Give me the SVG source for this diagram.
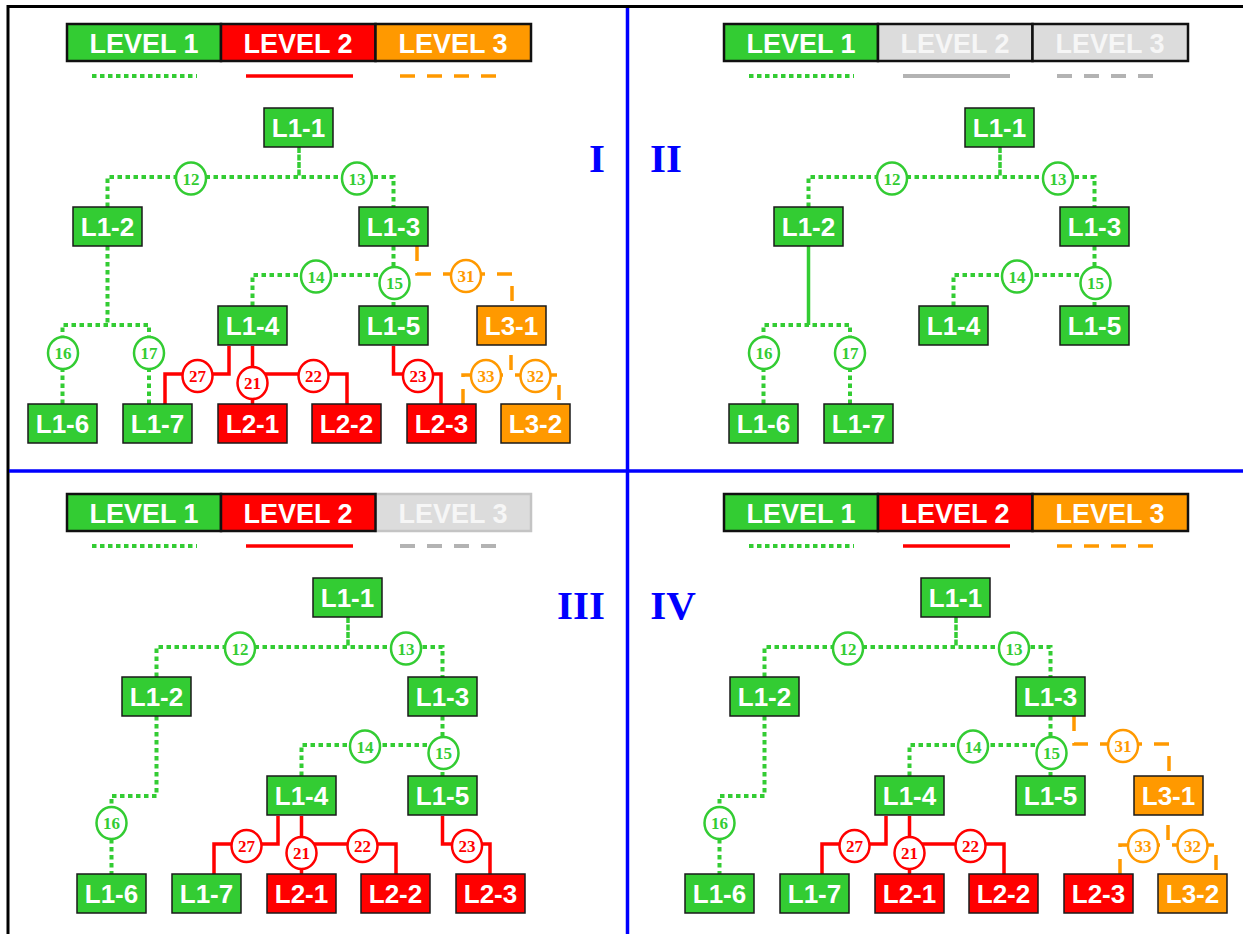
<svg xmlns="http://www.w3.org/2000/svg" width="1243" height="934" viewBox="0 0 1243 934">
<style>
.node rect{stroke:#1a1a1a;stroke-width:1.5}
.g{fill:#33cc33}.r{fill:#ff0000}.o{fill:#ff9900}.x{fill:#dcdcdc}
.node text,.leg text{font-family:"Liberation Sans",Arial,sans-serif;font-weight:bold;font-size:26px;fill:#fff;text-anchor:middle}
.leg text{font-size:27px}
.leg rect{stroke:#111;stroke-width:2.5}
.leg text.dim{fill:#f6f6f6}
.c1{fill:none;stroke:#33cc33;stroke-width:4;stroke-dasharray:4.5 3.5}
.c1s{fill:none;stroke:#33cc33;stroke-width:3.5}
.c1d{fill:none;stroke:#33cc33;stroke-width:3.5;stroke-dasharray:6 1.5}
.c2{fill:none;stroke:#ff0000;stroke-width:3.5}
.c3{fill:none;stroke:#ff9900;stroke-width:3.5;stroke-dasharray:15 12}
.lg{fill:none;stroke:#b3b3b3;stroke-width:4}
.bub ellipse{fill:#fff;stroke-width:2.5}
.bub text{font-family:"Liberation Serif","Times New Roman",serif;font-weight:bold;font-size:17px;text-anchor:middle}
.bg ellipse{stroke:#33cc33}.bg text{fill:#33cc33}
.br ellipse{stroke:#ff0000}.br text{fill:#ff0000}
.bo ellipse{stroke:#ff9900}.bo text{fill:#ff9900}
.roman{font-family:"Liberation Serif","Times New Roman",serif;font-weight:bold;font-size:41px;fill:#0000ff;text-anchor:middle}
</style>
<rect x="0" y="0" width="1243" height="934" fill="#fff"/>
<!-- frame -->
<g id="frame">
<line x1="8" y1="6.5" x2="1243" y2="6.5" stroke="#000" stroke-width="3"/>
<line x1="8" y1="5" x2="8" y2="934" stroke="#000" stroke-width="3"/>
<line x1="627.5" y1="8" x2="627.5" y2="934" stroke="#0000ff" stroke-width="3.5"/>
<line x1="9" y1="471" x2="1243" y2="471" stroke="#0000ff" stroke-width="3.5"/>
</g>
<text class="roman" x="597" y="172">I</text>
<text class="roman" x="666" y="172">II</text>
<text class="roman" x="581" y="619">III</text>
<text class="roman" x="673" y="619">IV</text>

<!-- legends -->
<g id="legend-1" class="leg">
<rect class="g" x="67" y="24" width="154" height="37"/><text x="144" y="53">LEVEL 1</text>
<rect class="r" x="221" y="24" width="154.5" height="37"/><text x="298" y="53">LEVEL 2</text>
<rect class="o" x="375.5" y="24" width="155.5" height="37"/><text x="453" y="53">LEVEL 3</text>
<line class="c1" x1="92" y1="76" x2="197" y2="76"/>
<line class="c2" x1="246" y1="76" x2="353" y2="76" stroke-width="4"/>
<line class="c3" x1="400" y1="76" x2="498" y2="76" stroke-width="4"/>
</g>
<g id="legend-2" class="leg" transform="translate(657,0)">
<rect class="g" x="67" y="24" width="154" height="37"/><text x="144" y="53">LEVEL 1</text>
<rect class="x" x="221" y="24" width="154.5" height="37"/><text class="dim" x="298" y="53">LEVEL 2</text>
<rect class="x" x="375.5" y="24" width="155.5" height="37"/><text class="dim" x="453" y="53">LEVEL 3</text>
<line class="c1" x1="92" y1="76" x2="197" y2="76"/>
<line class="lg" x1="246" y1="76" x2="353" y2="76"/>
<line class="lg" x1="400" y1="76" x2="498" y2="76" stroke-dasharray="15 12"/>
</g>
<g id="legend-3" class="leg" transform="translate(0,470)">
<rect class="x" x="375.5" y="24" width="155.5" height="37" style="stroke:#c4c4c4"/><text class="dim" x="453" y="53">LEVEL 3</text>
<rect class="g" x="67" y="24" width="154" height="37"/><text x="144" y="53">LEVEL 1</text>
<rect class="r" x="221" y="24" width="154.5" height="37"/><text x="298" y="53">LEVEL 2</text>
<line class="c1" x1="92" y1="76" x2="197" y2="76"/>
<line class="c2" x1="246" y1="76" x2="353" y2="76" stroke-width="4"/>
<line class="lg" x1="400" y1="76" x2="498" y2="76" stroke-dasharray="15 12"/>
</g>
<g id="legend-4" class="leg" transform="translate(657,470)">
<rect class="g" x="67" y="24" width="154" height="37"/><text x="144" y="53">LEVEL 1</text>
<rect class="r" x="221" y="24" width="154.5" height="37"/><text x="298" y="53">LEVEL 2</text>
<rect class="o" x="375.5" y="24" width="155.5" height="37"/><text x="453" y="53">LEVEL 3</text>
<line class="c1" x1="92" y1="76" x2="197" y2="76"/>
<line class="c2" x1="246" y1="76" x2="353" y2="76" stroke-width="4"/>
<line class="c3" x1="400" y1="76" x2="498" y2="76" stroke-width="4"/>
</g>

<!-- ===== Quadrant I ===== -->
<g id="q1-connectors">
<path class="c1d" d="M299,147V177"/>
<path class="c1" d="M107.5,207V177H393.5V207"/>
<path class="c1" d="M393.5,246V306"/>
<path class="c1" d="M252.5,306V275H380"/>
<path class="c1" d="M107.5,246V325"/>
<path class="c1" d="M62.5,404V325H149V404"/>
<path class="c2" d="M229,346V374H165V404"/>
<path class="c2" d="M252.5,346V404"/>
<path class="c2" d="M252.5,374H347V404"/>
<path class="c2" d="M393.5,346V374H441V404"/>
<path class="c3" d="M417,246V274H512V306"/>
<path class="c3" d="M511,346V375" stroke-dashoffset="18"/>
<path class="c3" d="M463,404V375H559V404"/>
<g class="bub bg"><ellipse cx="191" cy="178.5" rx="15" ry="16"/><text x="191" y="184.5">12</text></g>
<g class="bub bg"><ellipse cx="357" cy="178.5" rx="15" ry="16"/><text x="357" y="184.5">13</text></g>
<g class="bub bg"><ellipse cx="316" cy="276.5" rx="15" ry="16"/><text x="316" y="282.5">14</text></g>
<g class="bub bg"><ellipse cx="394.5" cy="283" rx="15" ry="16"/><text x="394.5" y="289">15</text></g>
<g class="bub bg"><ellipse cx="63" cy="353" rx="15" ry="16"/><text x="63" y="359">16</text></g>
<g class="bub bg"><ellipse cx="149" cy="353" rx="15" ry="16"/><text x="149" y="359">17</text></g>
<g class="bub br"><ellipse cx="197.5" cy="376" rx="15" ry="16"/><text x="197.5" y="382">27</text></g>
<g class="bub br"><ellipse cx="252.5" cy="383" rx="15" ry="16"/><text x="252.5" y="389">21</text></g>
<g class="bub br"><ellipse cx="313.5" cy="376" rx="15" ry="16"/><text x="313.5" y="382">22</text></g>
<g class="bub br"><ellipse cx="418" cy="376" rx="15" ry="16"/><text x="418" y="382">23</text></g>
<g class="bub bo"><ellipse cx="466" cy="276" rx="15" ry="16"/><text x="466" y="282">31</text></g>
<g class="bub bo"><ellipse cx="486" cy="376" rx="15" ry="16"/><text x="486" y="382">33</text></g>
<g class="bub bo"><ellipse cx="535.5" cy="376" rx="15" ry="16"/><text x="535.5" y="382">32</text></g>
</g>
<g id="q1-nodes">
<g id="q1-L1-1" class="node"><rect class="g" x="264" y="108" width="69" height="39"/><text x="298.5" y="137">L1-1</text></g>
<g id="q1-L1-2" class="node"><rect class="g" x="73" y="207" width="69" height="39"/><text x="107.5" y="236">L1-2</text></g>
<g id="q1-L1-3" class="node"><rect class="g" x="359" y="207" width="69" height="39"/><text x="393.5" y="236">L1-3</text></g>
<g id="q1-L1-4" class="node"><rect class="g" x="218" y="306" width="69" height="39"/><text x="252.5" y="335">L1-4</text></g>
<g id="q1-L1-5" class="node"><rect class="g" x="359" y="306" width="69" height="39"/><text x="393.5" y="335">L1-5</text></g>
<g id="q1-L3-1" class="node"><rect class="o" x="477" y="306" width="69" height="39"/><text x="511.5" y="335">L3-1</text></g>
<g id="q1-L1-6" class="node"><rect class="g" x="28" y="404" width="69" height="39"/><text x="62.5" y="433">L1-6</text></g>
<g id="q1-L1-7" class="node"><rect class="g" x="123" y="404" width="69" height="39"/><text x="157.5" y="433">L1-7</text></g>
<g id="q1-L2-1" class="node"><rect class="r" x="218" y="404" width="69" height="39"/><text x="252.5" y="433">L2-1</text></g>
<g id="q1-L2-2" class="node"><rect class="r" x="312" y="404" width="69" height="39"/><text x="346.5" y="433">L2-2</text></g>
<g id="q1-L2-3" class="node"><rect class="r" x="407" y="404" width="69" height="39"/><text x="441.5" y="433">L2-3</text></g>
<g id="q1-L3-2" class="node"><rect class="o" x="501" y="404" width="69" height="39"/><text x="535.5" y="433">L3-2</text></g>
</g>

<!-- ===== Quadrant II ===== -->
<g id="q2-connectors" transform="translate(701,0)">
<path class="c1d" d="M299,147V177"/>
<path class="c1" d="M107.5,207V177H393.5V207"/>
<path class="c1" d="M393.5,246V306"/>
<path class="c1" d="M252.5,306V275H380"/>
<path class="c1s" d="M107.5,246V325"/>
<path class="c1" d="M62.5,404V325H149V404"/>
<g class="bub bg"><ellipse cx="191" cy="178.5" rx="15" ry="16"/><text x="191" y="184.5">12</text></g>
<g class="bub bg"><ellipse cx="357" cy="178.5" rx="15" ry="16"/><text x="357" y="184.5">13</text></g>
<g class="bub bg"><ellipse cx="316" cy="276.5" rx="15" ry="16"/><text x="316" y="282.5">14</text></g>
<g class="bub bg"><ellipse cx="394.5" cy="283" rx="15" ry="16"/><text x="394.5" y="289">15</text></g>
<g class="bub bg"><ellipse cx="63" cy="353" rx="15" ry="16"/><text x="63" y="359">16</text></g>
<g class="bub bg"><ellipse cx="149" cy="353" rx="15" ry="16"/><text x="149" y="359">17</text></g>
</g>
<g id="q2-nodes" transform="translate(701,0)">
<g id="q2-L1-1" class="node"><rect class="g" x="264" y="108" width="69" height="39"/><text x="298.5" y="137">L1-1</text></g>
<g id="q2-L1-2" class="node"><rect class="g" x="73" y="207" width="69" height="39"/><text x="107.5" y="236">L1-2</text></g>
<g id="q2-L1-3" class="node"><rect class="g" x="359" y="207" width="69" height="39"/><text x="393.5" y="236">L1-3</text></g>
<g id="q2-L1-4" class="node"><rect class="g" x="218" y="306" width="69" height="39"/><text x="252.5" y="335">L1-4</text></g>
<g id="q2-L1-5" class="node"><rect class="g" x="359" y="306" width="69" height="39"/><text x="393.5" y="335">L1-5</text></g>
<g id="q2-L1-6" class="node"><rect class="g" x="28" y="404" width="69" height="39"/><text x="62.5" y="433">L1-6</text></g>
<g id="q2-L1-7" class="node"><rect class="g" x="123" y="404" width="69" height="39"/><text x="157.5" y="433">L1-7</text></g>
</g>

<!-- ===== Quadrant III ===== -->
<g id="q3-connectors" transform="translate(49,470)">
<path class="c1d" d="M299,147V177"/>
<path class="c1" d="M107.5,207V177H393.5V207"/>
<path class="c1" d="M393.5,246V306"/>
<path class="c1" d="M252.5,306V275H380"/>
<path class="c1" d="M107.5,246V326H62.5V404"/>
<path class="c2" d="M229,346V374H165V404"/>
<path class="c2" d="M252.5,346V404"/>
<path class="c2" d="M252.5,374H347V404"/>
<path class="c2" d="M393.5,346V374H441V404"/>
<g class="bub bg"><ellipse cx="191" cy="178.5" rx="15" ry="16"/><text x="191" y="184.5">12</text></g>
<g class="bub bg"><ellipse cx="357" cy="178.5" rx="15" ry="16"/><text x="357" y="184.5">13</text></g>
<g class="bub bg"><ellipse cx="316" cy="276.5" rx="15" ry="16"/><text x="316" y="282.5">14</text></g>
<g class="bub bg"><ellipse cx="394.5" cy="283" rx="15" ry="16"/><text x="394.5" y="289">15</text></g>
<g class="bub bg"><ellipse cx="62.5" cy="353" rx="15" ry="16"/><text x="62.5" y="359">16</text></g>
<g class="bub br"><ellipse cx="197.5" cy="376" rx="15" ry="16"/><text x="197.5" y="382">27</text></g>
<g class="bub br"><ellipse cx="252.5" cy="383" rx="15" ry="16"/><text x="252.5" y="389">21</text></g>
<g class="bub br"><ellipse cx="313.5" cy="376" rx="15" ry="16"/><text x="313.5" y="382">22</text></g>
<g class="bub br"><ellipse cx="418" cy="376" rx="15" ry="16"/><text x="418" y="382">23</text></g>
</g>
<g id="q3-nodes" transform="translate(49,470)">
<g id="q3-L1-1" class="node"><rect class="g" x="264" y="108" width="69" height="39"/><text x="298.5" y="137">L1-1</text></g>
<g id="q3-L1-2" class="node"><rect class="g" x="73" y="207" width="69" height="39"/><text x="107.5" y="236">L1-2</text></g>
<g id="q3-L1-3" class="node"><rect class="g" x="359" y="207" width="69" height="39"/><text x="393.5" y="236">L1-3</text></g>
<g id="q3-L1-4" class="node"><rect class="g" x="218" y="306" width="69" height="39"/><text x="252.5" y="335">L1-4</text></g>
<g id="q3-L1-5" class="node"><rect class="g" x="359" y="306" width="69" height="39"/><text x="393.5" y="335">L1-5</text></g>
<g id="q3-L1-6" class="node"><rect class="g" x="28" y="404" width="69" height="39"/><text x="62.5" y="433">L1-6</text></g>
<g id="q3-L1-7" class="node"><rect class="g" x="123" y="404" width="69" height="39"/><text x="157.5" y="433">L1-7</text></g>
<g id="q3-L2-1" class="node"><rect class="r" x="218" y="404" width="69" height="39"/><text x="252.5" y="433">L2-1</text></g>
<g id="q3-L2-2" class="node"><rect class="r" x="312" y="404" width="69" height="39"/><text x="346.5" y="433">L2-2</text></g>
<g id="q3-L2-3" class="node"><rect class="r" x="407" y="404" width="69" height="39"/><text x="441.5" y="433">L2-3</text></g>
</g>

<!-- ===== Quadrant IV ===== -->
<g id="q4-connectors" transform="translate(657,470)">
<path class="c1d" d="M299,147V177"/>
<path class="c1" d="M107.5,207V177H393.5V207"/>
<path class="c1" d="M393.5,246V306"/>
<path class="c1" d="M252.5,306V275H380"/>
<path class="c1" d="M107.5,246V326H62.5V404"/>
<path class="c2" d="M229,346V374H165V404"/>
<path class="c2" d="M252.5,346V404"/>
<path class="c2" d="M252.5,374H347V404"/>
<path class="c3" d="M417,246V274H512V306"/>
<path class="c3" d="M511,346V375" stroke-dashoffset="18"/>
<path class="c3" d="M463,404V375H559V404"/>
<g class="bub bg"><ellipse cx="191" cy="178.5" rx="15" ry="16"/><text x="191" y="184.5">12</text></g>
<g class="bub bg"><ellipse cx="357" cy="178.5" rx="15" ry="16"/><text x="357" y="184.5">13</text></g>
<g class="bub bg"><ellipse cx="316" cy="276.5" rx="15" ry="16"/><text x="316" y="282.5">14</text></g>
<g class="bub bg"><ellipse cx="394.5" cy="283" rx="15" ry="16"/><text x="394.5" y="289">15</text></g>
<g class="bub bg"><ellipse cx="62.5" cy="353" rx="15" ry="16"/><text x="62.5" y="359">16</text></g>
<g class="bub br"><ellipse cx="197.5" cy="376" rx="15" ry="16"/><text x="197.5" y="382">27</text></g>
<g class="bub br"><ellipse cx="252.5" cy="383" rx="15" ry="16"/><text x="252.5" y="389">21</text></g>
<g class="bub br"><ellipse cx="313.5" cy="376" rx="15" ry="16"/><text x="313.5" y="382">22</text></g>
<g class="bub bo"><ellipse cx="466" cy="276" rx="15" ry="16"/><text x="466" y="282">31</text></g>
<g class="bub bo"><ellipse cx="486" cy="376" rx="15" ry="16"/><text x="486" y="382">33</text></g>
<g class="bub bo"><ellipse cx="535.5" cy="376" rx="15" ry="16"/><text x="535.5" y="382">32</text></g>
</g>
<g id="q4-nodes" transform="translate(657,470)">
<g id="q4-L1-1" class="node"><rect class="g" x="264" y="108" width="69" height="39"/><text x="298.5" y="137">L1-1</text></g>
<g id="q4-L1-2" class="node"><rect class="g" x="73" y="207" width="69" height="39"/><text x="107.5" y="236">L1-2</text></g>
<g id="q4-L1-3" class="node"><rect class="g" x="359" y="207" width="69" height="39"/><text x="393.5" y="236">L1-3</text></g>
<g id="q4-L1-4" class="node"><rect class="g" x="218" y="306" width="69" height="39"/><text x="252.5" y="335">L1-4</text></g>
<g id="q4-L1-5" class="node"><rect class="g" x="359" y="306" width="69" height="39"/><text x="393.5" y="335">L1-5</text></g>
<g id="q4-L3-1" class="node"><rect class="o" x="477" y="306" width="69" height="39"/><text x="511.5" y="335">L3-1</text></g>
<g id="q4-L1-6" class="node"><rect class="g" x="28" y="404" width="69" height="39"/><text x="62.5" y="433">L1-6</text></g>
<g id="q4-L1-7" class="node"><rect class="g" x="123" y="404" width="69" height="39"/><text x="157.5" y="433">L1-7</text></g>
<g id="q4-L2-1" class="node"><rect class="r" x="218" y="404" width="69" height="39"/><text x="252.5" y="433">L2-1</text></g>
<g id="q4-L2-2" class="node"><rect class="r" x="312" y="404" width="69" height="39"/><text x="346.5" y="433">L2-2</text></g>
<g id="q4-L2-3" class="node"><rect class="r" x="407" y="404" width="69" height="39"/><text x="441.5" y="433">L2-3</text></g>
<g id="q4-L3-2" class="node"><rect class="o" x="501" y="404" width="69" height="39"/><text x="535.5" y="433">L3-2</text></g>
</g>
</svg>
